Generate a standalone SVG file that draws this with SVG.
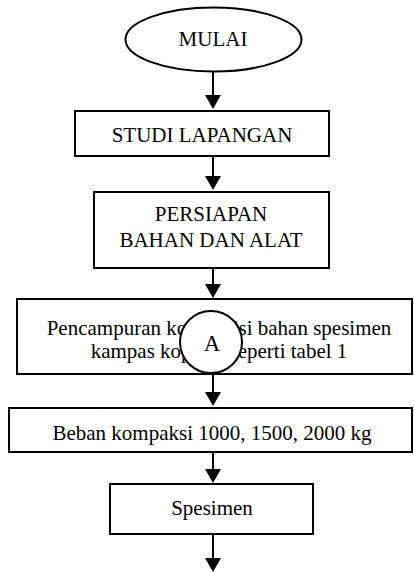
<svg xmlns="http://www.w3.org/2000/svg" width="414" height="572" viewBox="0 0 414 572">
<style>
  .box { fill: #fff; stroke: #000; stroke-width: 2; }
  .lbl { font-family: "Liberation Serif", "Times New Roman", serif; font-size: 21px; fill: #000; text-anchor: middle; }
  .conn { stroke: #000; stroke-width: 2; fill: none; marker-end: url(#arrow); }
</style>
<defs>
  <marker id="arrow" markerUnits="userSpaceOnUse" markerWidth="14" markerHeight="16" refX="4" refY="8" orient="auto">
    <path d="M0,0 L14,8 L0,16 z" fill="#000"/>
  </marker>
</defs>
<rect width="414" height="572" fill="#fff"/>
<g id="connectors">
  <line class="conn" x1="213" y1="72" x2="213" y2="99"/>
  <line class="conn" x1="213" y1="156" x2="213" y2="180"/>
  <line class="conn" x1="213" y1="268" x2="213" y2="288"/>
  <line class="conn" x1="213" y1="374" x2="213" y2="396"/>
  <line class="conn" x1="213" y1="452" x2="213" y2="473"/>
  <line class="conn" x1="213" y1="534" x2="213" y2="562"/>
</g>
<g id="mulai">
  <ellipse cx="213.5" cy="39.5" rx="88" ry="32" fill="#fff" stroke="#000" stroke-width="2"/>
  <text class="lbl" x="213" y="46">MULAI</text>
</g>
<g id="studi">
  <rect class="box" x="75" y="111" width="254" height="45"/>
  <text class="lbl" x="202" y="142">STUDI LAPANGAN</text>
</g>
<g id="persiapan">
  <rect class="box" x="94" y="192" width="235" height="76"/>
  <text class="lbl" x="211" y="221">PERSIAPAN</text>
  <text class="lbl" x="211" y="247">BAHAN DAN ALAT</text>
</g>
<g id="pencampuran">
  <rect class="box" x="17" y="299" width="395" height="75"/>
  <text class="lbl" x="219" y="335">Pencampuran komposisi bahan spesimen</text>
  <text class="lbl" x="219" y="358">kampas kopling seperti tabel 1</text>
</g>
<g id="connector-a">
  <circle cx="211" cy="342" r="31" fill="#fff" stroke="#000" stroke-width="2"/>
  <text class="lbl" x="212" y="351" style="font-size:23px">A</text>
</g>
<g id="beban">
  <rect class="box" x="9" y="408" width="403" height="44"/>
  <text class="lbl" x="212" y="440">Beban kompaksi 1000, 1500, 2000 kg</text>
</g>
<g id="spesimen">
  <rect class="box" x="110" y="484" width="203" height="50"/>
  <text class="lbl" x="212" y="515">Spesimen</text>
</g>
</svg>
